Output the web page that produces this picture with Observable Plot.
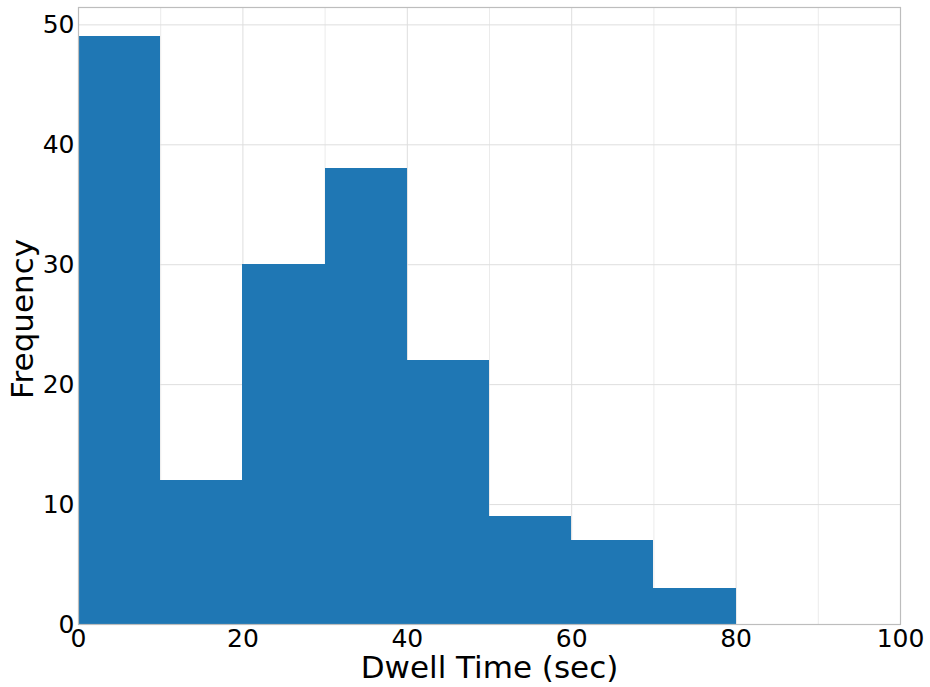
<!DOCTYPE html>
<html>
<head>
<meta charset="utf-8">
<script src="https://cdn.jsdelivr.net/npm/d3@7"></script>
<script src="https://cdn.jsdelivr.net/npm/@observablehq/plot@0.6"></script>
<style>
  html, body { margin: 0; padding: 0; background: #fff; }
  #chart svg { display: block; }
</style>
</head>
<body>
<div id="chart"></div>
<script>
const binStart = [0, 10, 20, 30, 40, 50, 60, 70];
const binEnd   = [10, 20, 30, 40, 50, 60, 70, 80];
const frequency = [49, 12, 30, 38, 22, 9, 7, 3];
const xMajorTicks = [0, 20, 40, 60, 80, 100];
const xMinorTicks = [10, 30, 50, 70, 90];
const yTicks = [0, 10, 20, 30, 40, 50];
const xLabel = "Dwell Time (sec)";
const yLabel = "Frequency";

const bins = binStart.map((s, i) => ({x1: s, x2: binEnd[i], y: frequency[i]}));

const chart = Plot.plot({
  width: 930,
  height: 687,
  marginLeft: 78,
  marginRight: 30,
  marginTop: 7,
  marginBottom: 63,
  style: {fontFamily: "DejaVu Sans", fontSize: "25px", color: "#000", background: "#fff"},
  x: {domain: [0, 100], ticks: xMajorTicks, tickSize: 0, tickPadding: 5, label: null},
  y: {domain: [0, 51.45], ticks: yTicks, tickSize: 0, tickPadding: 4, label: null},
  marks: [
    Plot.ruleX(xMinorTicks, {stroke: "#ebebeb", strokeWidth: 1}),
    Plot.ruleX(xMajorTicks, {stroke: "#dedede", strokeWidth: 1}),
    Plot.ruleY(yTicks, {stroke: "#dedede", strokeWidth: 1}),
    Plot.rectY(bins, {x1: "x1", x2: "x2", y: "y", fill: "#1f77b4", inset: 0, shapeRendering: "crispEdges"}),
    Plot.frame({stroke: "#bdbdbd", strokeWidth: 1.2}),
    Plot.text([xLabel], {frameAnchor: "bottom", lineAnchor: "middle", textAnchor: "middle", dy: 44, text: d => d, fontSize: 31, fill: "#000"}),
    Plot.text([yLabel], {frameAnchor: "left", lineAnchor: "middle", textAnchor: "middle", dx: -55, dy: 3, rotate: -90, text: d => d, fontSize: 31, fill: "#000"})
  ]
});
document.getElementById("chart").appendChild(chart);
</script>
</body>
</html>
